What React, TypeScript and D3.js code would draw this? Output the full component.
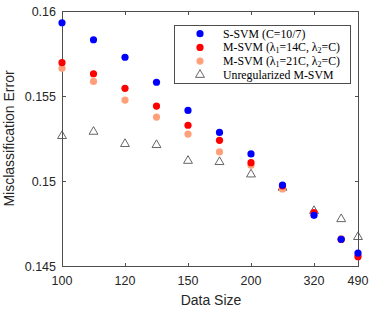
import React from "react";
import * as d3 from "d3";

const dataSizes = [100, 110, 120, 135, 150, 175, 200, 260, 320, 425, 490];
const tickSizes = [100, 120, 150, 200, 320, 490];
const yTicks = [0.145, 0.15, 0.155, 0.16];

const sSvm = [0.15931, 0.15831, 0.15728, 0.15581, 0.15415, 0.15286, 0.15159, 0.14976, 0.14798, 0.14657, 0.14576];
const mSvm14 = [0.15696, 0.15631, 0.15545, 0.15441, 0.15328, 0.15239, 0.15108, 0.14971, 0.14814, 0.14656, 0.14555];
const mSvm21 = [0.15663, 0.15586, 0.15476, 0.15376, 0.15276, 0.15171, 0.15092, 0.14953, 0.14809, 0.14661, 0.14563];
const unreg = [0.15265, 0.1529, 0.15218, 0.15212, 0.15119, 0.15112, 0.15039, 0.14961, 0.14824, 0.14776, 0.14671];

const W = 374, H = 309;
const M = { left: 62, right: 358, top: 11, bottom: 266 };
const tickFrac = [0, 63, 126, 189, 252, 296].map((v) => v / 296);

export default function App() {
  const x = d3
    .scaleLinear()
    .domain(tickSizes)
    .range(tickFrac.map((f) => M.left + f * (M.right - M.left)));
  const y = d3.scaleLinear().domain([0.145, 0.16]).range([M.bottom, M.top]);
  const axisColor = "#4d4d4d";
  const sans = "'Liberation Sans', Arial, sans-serif";
  const serif = "'Liberation Serif', 'Times New Roman', serif";
  const tri = d3.symbol().type(d3.symbolTriangle).size(34)();
  const r = 3.6;

  const circles = (vals: number[], color: string, key: string) =>
    vals.map((v, i) => (
      <circle key={key + i} cx={x(dataSizes[i])} cy={y(v)} r={r} fill={color} />
    ));

  const legend = [
    { label: "S-SVM (C=10/7)", color: "#0000ff", type: "c" },
    { label: "M-SVM (λ1=14C, λ2=C)", color: "#ff0000", type: "c" },
    { label: "M-SVM (λ1=21C, λ2=C)", color: "#ffa07a", type: "c" },
    { label: "Unregularized M-SVM", color: "#555", type: "t" },
  ];

  const renderLabel = (s: string) => {
    const segs: { t: string; sub: boolean }[] = [];
    let buf = "";
    for (let i = 0; i < s.length; i++) {
      const c = s[i];
      if (/[12]/.test(c) && s[i - 1] === "λ") {
        segs.push({ t: buf, sub: false });
        segs.push({ t: c, sub: true });
        buf = "";
      } else buf += c;
    }
    if (buf) segs.push({ t: buf, sub: false });
    let prevSub = false;
    return segs.map((sg, i) => {
      const dy = sg.sub ? 2 : prevSub ? -2 : 0;
      prevSub = sg.sub;
      return (
        <tspan key={i} dy={dy || undefined} fontSize={sg.sub ? 8 : undefined}>
          {sg.t}
        </tspan>
      );
    });
  };

  return (
    <svg
      width={W}
      height={H}
      style={{ position: "absolute", left: 0, top: 0, background: "#fff" }}
    >
      <rect x={0} y={0} width={W} height={H} fill="#fff" />
      <rect
        x={M.left + 0.5}
        y={M.top + 0.5}
        width={M.right - M.left}
        height={M.bottom - M.top}
        fill="none"
        stroke={axisColor}
        strokeWidth={1}
      />
      {tickSizes.map((t) => {
        const px = Math.round(x(t)) + 0.5;
        return (
          <g key={"xt" + t}>
            <line x1={px} x2={px} y1={M.bottom + 0.5} y2={M.bottom - 3} stroke={axisColor} />
            <line x1={px} x2={px} y1={M.top + 0.5} y2={M.top + 4} stroke={axisColor} />
            <text
              x={x(t)}
              y={285}
              textAnchor="middle"
              fontFamily={sans}
              fontSize={12.5}
              fill="#262626"
            >
              {t}
            </text>
          </g>
        );
      })}
      {yTicks.map((t) => {
        const py = Math.round(y(t)) + 0.5;
        return (
          <g key={"yt" + t}>
            <line x1={M.left + 0.5} x2={M.left + 4} y1={py} y2={py} stroke={axisColor} />
            <line x1={M.right + 0.5} x2={M.right - 3} y1={py} y2={py} stroke={axisColor} />
            <text
              x={56}
              y={y(t) + 4.5}
              textAnchor="end"
              fontFamily={sans}
              fontSize={12.5}
              fill="#262626"
            >
              {d3.format("")(t)}
            </text>
          </g>
        );
      })}
      <text
        x={211}
        y={305}
        textAnchor="middle"
        fontFamily={sans}
        fontSize={14}
        fill="#262626"
      >
        Data Size
      </text>
      <text
        transform={`translate(14,${(M.top + M.bottom) / 2}) rotate(-90)`}
        textAnchor="middle"
        fontFamily={sans}
        fontSize={14}
        fill="#262626"
      >
        Misclassification Error
      </text>
      {unreg.map((v, i) => (
        <path
          key={"u" + i}
          d={tri as string}
          transform={`translate(${x(dataSizes[i])},${y(v)})`}
          fill="none"
          stroke="#555"
          strokeWidth={0.9}
        />
      ))}
      {circles(mSvm21, "#ffa07a", "m21")}
      {circles(mSvm14, "#ff0000", "m14")}
      {circles(sSvm, "#0000ff", "s")}
      <rect x={174.5} y={25.5} width={176} height={58} fill="#fff" stroke={axisColor} />
      {legend.map((l, i) => {
        const cy = 33.7 + i * 13.7;
        return (
          <g key={"lg" + i}>
            {l.type === "c" ? (
              <circle cx={200} cy={cy} r={r} fill={l.color} />
            ) : (
              <path
                d={tri as string}
                transform={`translate(200,${cy})`}
                fill="none"
                stroke={l.color}
                strokeWidth={0.9}
              />
            )}
            <text x={223} y={cy + 3.8} fontFamily={serif} fontSize={11.8} fill="#000">
              {renderLabel(l.label)}
            </text>
          </g>
        );
      })}
    </svg>
  );
}
